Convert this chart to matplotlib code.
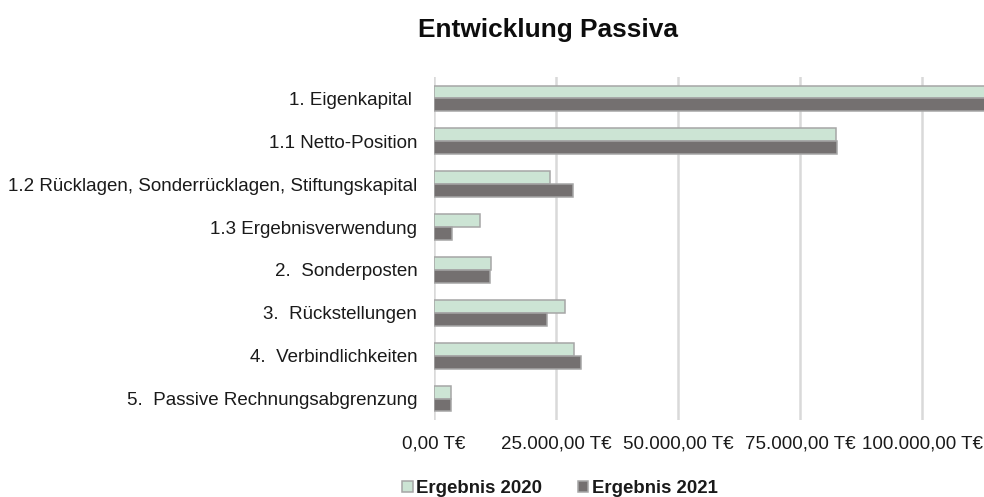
import numpy as np
import matplotlib
matplotlib.use("Agg")
import matplotlib.pyplot as plt
from matplotlib.ticker import FuncFormatter

plt.rcParams['font.family'] = ['Liberation Sans', 'DejaVu Sans']

categories = [
    "1. Eigenkapital ",
    "1.1 Netto-Position",
    "1.2 Rücklagen, Sonderrücklagen, Stiftungskapital",
    "1.3 Ergebnisverwendung",
    "2.  Sonderposten",
    "3.  Rückstellungen",
    "4.  Verbindlichkeiten",
    "5.  Passive Rechnungsabgrenzung",
]
# values in T€
ergebnis_2020 = [115700, 82400, 23800, 9400, 11700, 26800, 28700, 3400]
ergebnis_2021 = [114500, 82500, 28400, 3600, 11500, 23100, 30200, 3500]
series_names = ["Ergebnis 2020", "Ergebnis 2021"]
x_ticks = [0, 25000, 50000, 75000, 100000]


def euro(v, pos=None):
    s = f"{v:,.2f}".replace(",", "X").replace(".", ",").replace("X", ".")
    return s + " T€"


fig = plt.figure(figsize=(9.84, 4.97), dpi=100)
# axis runs to 125.000 and is cut off at the right edge like the original
ax = fig.add_axes([434 / 984, 1 - 420 / 497, 610 / 984, 343 / 497])

y = np.arange(len(categories))
h = 0.3
edge = "#A6A6A6"
ax.barh(y - h / 2, ergebnis_2020, height=h, color="#CCE4D4", edgecolor=edge,
        linewidth=1.1, label=series_names[0], zorder=3)
ax.barh(y + h / 2, ergebnis_2021, height=h, color="#747070", edgecolor=edge,
        linewidth=1.1, label=series_names[1], zorder=3)

ax.set_xlim(0, 125000)
ax.set_ylim(len(categories) - 0.5, -0.5)
ax.set_xticks(x_ticks)
ax.xaxis.set_major_formatter(FuncFormatter(euro))
ax.set_yticks(y)
ax.set_yticklabels(categories)
ax.tick_params(axis="both", length=0, labelsize=13.5, labelcolor="#1A1A1A")
ax.tick_params(axis="y", pad=12)
ax.tick_params(axis="x", pad=11)
ax.grid(axis="x", color="#D9D9D9", linewidth=1.8, zorder=0)
for sp in ax.spines.values():
    sp.set_visible(False)

fig.text(0.557, 0.94, "Entwicklung Passiva", ha="center", va="center",
         fontsize=18.9, fontweight="bold", color="#0D0D0D")

fig.legend(loc="center", bbox_to_anchor=(0.569, 0.017), ncol=2, frameon=False,
           prop={"weight": "bold", "size": 13.4}, handlelength=0.55,
           handleheight=0.55, handletextpad=0.2, columnspacing=1.9,
           labelcolor="#1A1A1A")

fig.savefig("out.png", dpi=100)
